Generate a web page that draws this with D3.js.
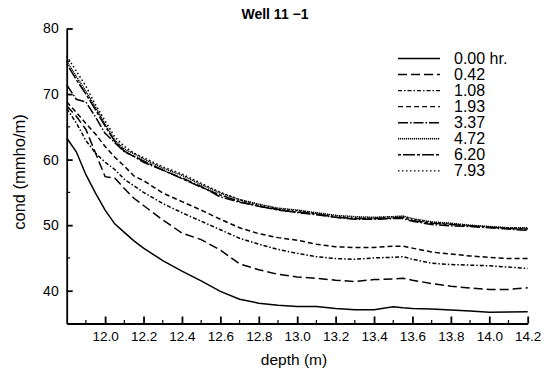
<!DOCTYPE html>
<html>
<head>
<meta charset="utf-8">
<script src="https://cdn.jsdelivr.net/npm/d3@7"></script>
<style>
  body { margin: 0; background: #fff; }
  text { font-family: "Liberation Sans", Arial, sans-serif; fill: #000; }
  .axis path, .axis line { stroke: #000; stroke-width: 1.8; }
</style>
</head>
<body>
<svg id="chart" width="550" height="373"></svg>
<script>
// depth samples (m)
var depths = [11.8, 11.85, 11.9, 11.95, 12.0, 12.05, 12.1, 12.15, 12.2, 12.3, 12.4, 12.5, 12.6, 12.7, 12.8,
  12.9, 13.0, 13.1, 13.2, 13.3, 13.4, 13.5, 13.55, 13.6, 13.7, 13.8, 13.9, 14.0, 14.1, 14.2];

// conductivity (mmho/m) for each elapsed time
var hr000 = [63.3, 61.2, 57.7, 54.9, 52.3, 50.2, 48.9, 47.6, 46.5, 44.6, 43.0, 41.5, 39.9, 38.7, 38.1,
  37.8, 37.6, 37.6, 37.3, 37.1, 37.1, 37.55, 37.4, 37.3, 37.2, 37.05, 36.9, 36.7, 36.75, 36.8];
var hr042 = [68.2, 66.6, 64.6, 61.0, 57.4, 57.2, 55.6, 54.1, 53.0, 50.8, 48.8, 47.8, 46.2, 44.1, 43.2,
  42.5, 42.1, 41.9, 41.6, 41.4, 41.7, 41.8, 41.9, 41.6, 41.1, 40.7, 40.4, 40.2, 40.2, 40.45];
var hr108 = [67.8, 65.6, 62.9, 61.0, 59.6, 58.5, 57.0, 56.0, 55.0, 53.3, 51.9, 50.6, 49.3, 48.0, 47.1,
  46.3, 45.7, 45.2, 44.9, 44.8, 45.0, 45.1, 45.2, 44.8, 44.2, 44.0, 43.9, 43.8, 43.6, 43.4];
var hr193 = [68.8, 67.2, 65.5, 63.9, 62.0, 60.4, 59.0, 57.5, 56.8, 54.9, 53.6, 52.3, 50.9, 49.6, 48.7,
  48.1, 47.7, 47.1, 46.7, 46.6, 46.6, 46.8, 46.8, 46.5, 45.9, 45.6, 45.3, 45.1, 44.9, 44.9];
var hr337 = [71.4, 69.2, 68.8, 66.5, 64.0, 62.6, 61.2, 60.5, 59.6, 58.4, 57.2, 55.9, 54.3, 53.5, 52.9,
  52.4, 51.9, 51.6, 51.2, 50.9, 50.9, 51.0, 51.0, 50.6, 50.1, 49.9, 49.8, 49.6, 49.4, 49.2];
var hr472 = [75.0, 72.7, 70.4, 68.0, 65.4, 63.0, 61.6, 60.9, 60.1, 58.7, 57.6, 56.2, 54.9, 53.9, 53.2,
  52.6, 52.3, 51.9, 51.5, 51.3, 51.2, 51.3, 51.4, 51.0, 50.5, 50.3, 50.0, 49.8, 49.6, 49.6];
var hr620 = [74.6, 72.2, 70.0, 67.6, 65.1, 62.8, 61.3, 60.5, 59.8, 58.4, 57.1, 55.8, 54.6, 53.6, 52.9,
  52.3, 52.0, 51.7, 51.2, 51.0, 51.0, 51.1, 51.2, 50.7, 50.3, 50.1, 49.9, 49.7, 49.5, 49.4];
var hr793 = [75.8, 73.5, 71.2, 68.4, 65.9, 63.5, 62.0, 61.0, 60.3, 58.9, 57.8, 56.4, 55.0, 53.9, 53.1,
  52.5, 52.2, 51.8, 51.4, 51.1, 51.1, 51.3, 51.3, 50.9, 50.4, 50.2, 49.9, 49.7, 49.6, 49.5];

var seriesLabels = ['0.00 hr.', '0.42', '1.08', '1.93', '3.37', '4.72', '6.20', '7.93'];
var seriesValues = [hr000, hr042, hr108, hr193, hr337, hr472, hr620, hr793];
var dashes = [null, '9,4', '4,2,1.5,2', '5,3', '10,2,1.5,2', '1.2,0.8', '3,2,12,2', '1.5,2.5'];

var xMajor = [12.0, 12.2, 12.4, 12.6, 12.8, 13.0, 13.2, 13.4, 13.6, 13.8, 14.0, 14.2];
var xMinor = [11.9, 12.1, 12.3, 12.5, 12.7, 12.9, 13.1, 13.3, 13.5, 13.7, 13.9, 14.1];
var yMajor = [40, 50, 60, 70, 80];
var yMinor = [45, 55, 65, 75];

var svg = d3.select('#chart');

var x = d3.scaleLinear().domain([11.8, 14.2]).range([66.7, 527.7]);
var y = d3.scaleLinear().domain([35, 80]).range([323.5, 28.5]);

// title
svg.append('text')
  .attr('x', 275).attr('y', 19)
  .attr('text-anchor', 'middle')
  .style('font-size', '14px')
  .style('font-weight', 'bold')
  .text('Well 11 \u22121');

// curves
var line = d3.line()
  .x(function(d, i) { return x(depths[i]); })
  .y(function(d) { return y(d); });

svg.append('g').selectAll('path.curve')
  .data(seriesValues)
  .enter().append('path')
  .attr('class', 'curve')
  .attr('d', line)
  .attr('fill', 'none')
  .attr('stroke', '#000')
  .attr('stroke-width', 1.5)
  .attr('stroke-dasharray', function(d, i) { return dashes[i]; });

// axes
var xAxis = svg.append('g')
  .attr('class', 'axis')
  .attr('transform', 'translate(0,' + y(35) + ')')
  .call(d3.axisBottom(x).tickValues(xMajor).tickSize(-7).tickSizeOuter(0).tickPadding(8)
    .tickFormat(d3.format('.1f')));
xAxis.selectAll('.tick line').attr('stroke-width', 1.2);
xAxis.selectAll('text').style('font-size', '13.5px').attr('font-family', null);

svg.append('g').selectAll('line')
  .data(xMinor)
  .enter().append('line')
  .attr('x1', function(d) { return x(d); })
  .attr('x2', function(d) { return x(d); })
  .attr('y1', y(35))
  .attr('y2', y(35) - 3.5)
  .attr('stroke', '#000')
  .attr('stroke-width', 1.2);

var yAxis = svg.append('g')
  .attr('class', 'axis')
  .attr('transform', 'translate(' + x(11.8) + ',0)')
  .call(d3.axisLeft(y).tickValues(yMajor).tickSize(-6).tickSizeOuter(0).tickPadding(8));
yAxis.selectAll('.tick line').attr('stroke-width', 1.2);
yAxis.selectAll('text').style('font-size', '14px').attr('font-family', null);

svg.append('g').selectAll('line')
  .data(yMinor)
  .enter().append('line')
  .attr('x1', x(11.8))
  .attr('x2', x(11.8) + 3.5)
  .attr('y1', function(d) { return y(d); })
  .attr('y2', function(d) { return y(d); })
  .attr('stroke', '#000')
  .attr('stroke-width', 1.2);

// axis titles
svg.append('text')
  .attr('x', 294).attr('y', 365)
  .attr('text-anchor', 'middle')
  .style('font-size', '15.5px')
  .text('depth (m)');

svg.append('text')
  .attr('transform', 'translate(25,172) rotate(-90)')
  .attr('text-anchor', 'middle')
  .style('font-size', '16.5px')
  .text('cond (mmho/m)');

// legend
var legend = svg.append('g').selectAll('g')
  .data(seriesLabels)
  .enter().append('g')
  .attr('transform', function(d, i) { return 'translate(0,' + (58.5 + i * 16.05) + ')'; });

legend.append('line')
  .attr('x1', 398).attr('x2', 440)
  .attr('y1', 0).attr('y2', 0)
  .attr('stroke', '#000')
  .attr('stroke-width', 1.4)
  .attr('stroke-dasharray', function(d, i) { return dashes[i]; });

legend.append('text')
  .attr('x', 454).attr('y', 5.5)
  .style('font-size', '16px')
  .text(function(d) { return d; });
</script>
</body>
</html>
